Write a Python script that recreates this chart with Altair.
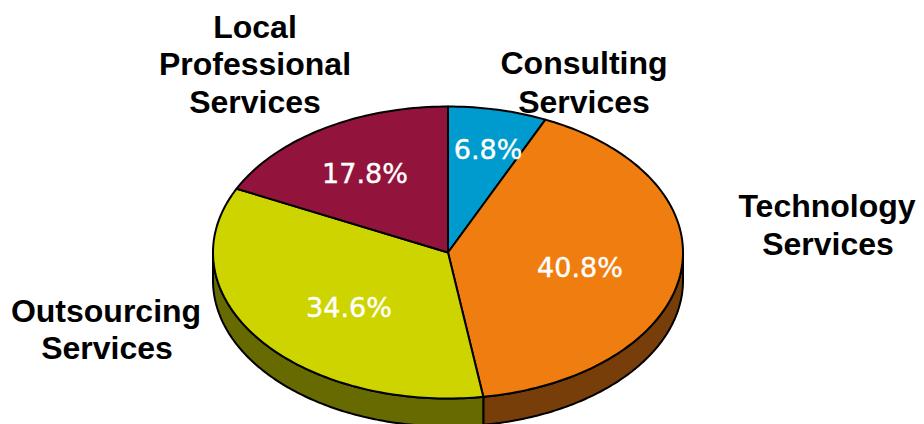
import math
import altair as alt
import pandas as pd

# values
slices = ["Consulting Services", "Technology Services", "Outsourcing Services", "Local Professional Services"]
shares = [6.8, 40.8, 34.6, 17.8]
pct_labels = ["6.8%", "40.8%", "34.6%", "17.8%"]
top_colors = ["#009BCE", "#F07D10", "#CDD400", "#92143C"]
wall_colors = ["#009BCE", "#783E0A", "#666A00", "#92143C"]

# layout of the pie (pixels)
CX, CY, RX, RY, DEPTH = 448, 251, 235, 146, 28
pct_x = [488, 580, 349, 365]
pct_y = [149, 267, 307, 173]
title_lines = ["Local", "Professional", "Services", "Consulting", "Services",
               "Technology", "Services", "Outsourcing", "Services"]
title_x = [255, 255, 255, 584, 584, 827, 828, 106, 107]
title_y = [26, 63, 101, 62, 101, 205, 243, 310, 347]

W, H = 908, 416
xs = alt.X("px:Q", scale=alt.Scale(domain=[8, 8 + W]), axis=None)
ys = alt.Y("py:Q", scale=alt.Scale(domain=[6.5 + H, 6.5]), axis=None)


def pt(t_pct, dy=0.0):
    a = 2 * math.pi * t_pct / 100
    return CX + RX * math.sin(a), CY - RY * math.cos(a) + dy


tops, walls = [], []
cum = 0.0
for name, s in zip(slices, shares):
    start, end = cum, cum + s
    n = max(int(s * 3), 6)
    arc = [start + (end - start) * k / n for k in range(n + 1)]
    poly = [(CX, CY)] + [pt(t) for t in arc] + [(CX, CY)]
    for i, (x, y) in enumerate(poly):
        tops.append({"slice": name, "i": i, "px": x, "py": y})
    # visible side wall: the front half of the ellipse only
    w0, w1 = max(start, 25.0), min(end, 75.0)
    if w1 > w0:
        warc = [w0 + (w1 - w0) * k / 120 for k in range(121)]
        wp = [pt(t) for t in warc] + [pt(t, DEPTH) for t in reversed(warc)]
        wp.append(wp[0])
        for i, (x, y) in enumerate(wp):
            walls.append({"slice": name, "i": i, "px": x, "py": y})
    cum = end

top_df, wall_df = pd.DataFrame(tops), pd.DataFrame(walls)
pct_df = pd.DataFrame({"label": pct_labels, "px": pct_x, "py": pct_y})
title_df = pd.DataFrame({"label": title_lines, "px": title_x, "py": title_y})


def polys(df, colors):
    return alt.Chart(df).mark_line(filled=True, stroke="black", strokeWidth=2, strokeJoin="round", clip=False).encode(
        x=xs, y=ys, order="i:Q",
        fill=alt.Fill("slice:N", scale=alt.Scale(domain=slices, range=colors), legend=None),
    )


walls_l = polys(wall_df, wall_colors)
tops_l = polys(top_df, top_colors)
pct_l = alt.Chart(pct_df).mark_text(font="DejaVu Sans", fontSize=27, color="white", fontWeight="normal",
                                    stroke="white", strokeWidth=0.4).encode(
    x=xs, y=ys, text="label:N")
title_l = alt.Chart(title_df).mark_text(font="Liberation Sans", fontSize=32, fontWeight="bold", color="black").encode(
    x=xs, y=ys, text="label:N")

chart = (walls_l + tops_l + pct_l + title_l).resolve_scale(fill="independent").properties(
    width=W, height=H, padding=0, autosize=alt.AutoSizeParams(type="none"), background="white"
).configure_view(stroke=None)
chart.save("out.html", embed_options={"renderer": "svg", "actions": False})
